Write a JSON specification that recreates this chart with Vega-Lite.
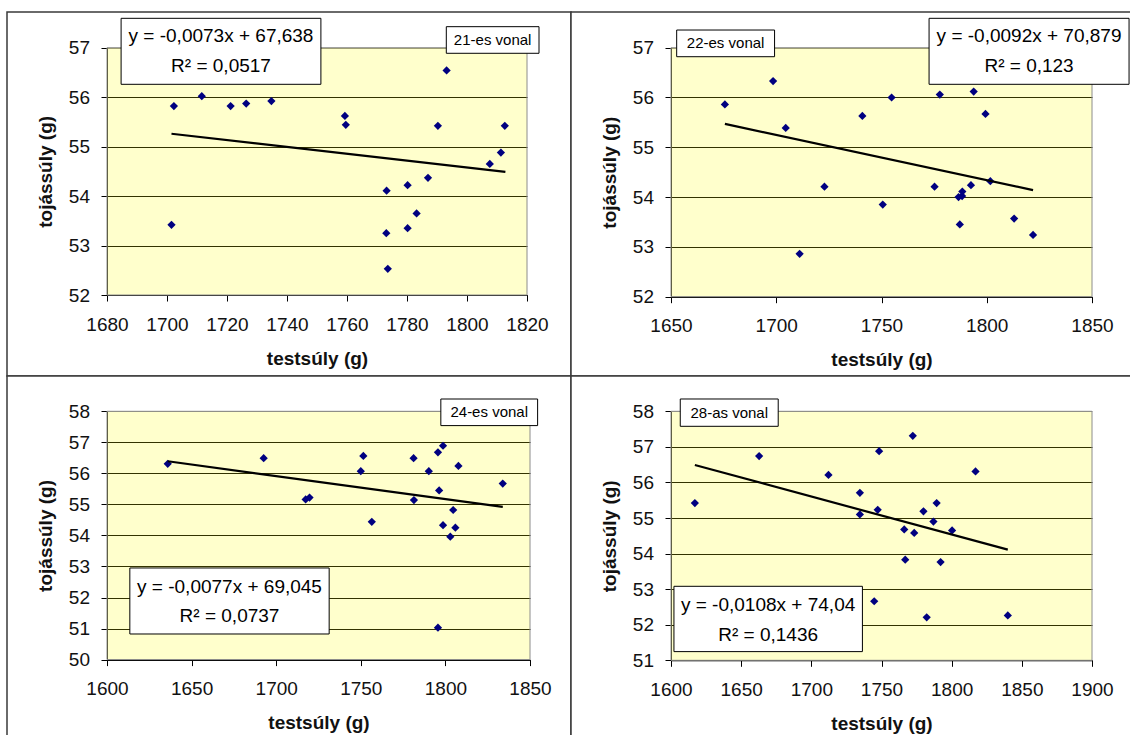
{
  "$schema": "https://vega.github.io/schema/vega-lite/v6.json",
  "background": "white",
  "padding": {"left": 6, "top": 11, "right": 0, "bottom": 0},
  "columns": 2,
  "spacing": 0,
  "bounds": "flush",
  "config": {
    "font": "Liberation Sans",
    "axis": {
      "labelFont": "Liberation Sans", "labelFontSize": 19, "labelColor": "#111",
      "titleFont": "Liberation Sans", "titleFontSize": 19, "titleFontWeight": "bold", "titleColor": "#111",
      "domainColor": "#000", "tickColor": "#000", "tickSize": 6, "domainWidth": 1, "tickWidth": 1,
      "gridColor": "#000", "gridOpacity": 1, "gridWidth": 1, "zindex": 1, "labelOverlap": false, "labelFlush": false
    },
    "axisX": {"grid": false, "labelPadding": 14, "titlePadding": 15, "format": "d"},
    "axisY": {"grid": true, "labelPadding": 11.5, "titlePadding": 13, "format": "d"}
  },
  "datasets": {
    "one": [{"a": 1}],
    "p21": [
      {"x": 1702.3, "y": 55.82}, {"x": 1701.5, "y": 53.42}, {"x": 1711.6, "y": 56.02}, {"x": 1721.2, "y": 55.82},
      {"x": 1726.4, "y": 55.87}, {"x": 1734.8, "y": 55.92}, {"x": 1759.3, "y": 55.62}, {"x": 1759.6, "y": 55.44},
      {"x": 1773.2, "y": 54.11}, {"x": 1773.1, "y": 53.25}, {"x": 1773.6, "y": 52.53}, {"x": 1780.2, "y": 54.22},
      {"x": 1780.2, "y": 53.35}, {"x": 1783.2, "y": 53.65}, {"x": 1787.0, "y": 54.37}, {"x": 1790.3, "y": 55.42},
      {"x": 1793.2, "y": 56.54}, {"x": 1807.6, "y": 54.65}, {"x": 1811.3, "y": 54.88}, {"x": 1812.6, "y": 55.42}
    ],
    "t21": [{"x": 1701.5, "y": 55.26}, {"x": 1812.8, "y": 54.49}],
    "p22": [
      {"x": 1675.6, "y": 55.86}, {"x": 1698.5, "y": 56.33}, {"x": 1704.5, "y": 55.39}, {"x": 1711.1, "y": 52.86},
      {"x": 1722.9, "y": 54.21}, {"x": 1740.9, "y": 55.63}, {"x": 1750.6, "y": 53.85}, {"x": 1754.8, "y": 56.0},
      {"x": 1775.2, "y": 54.21}, {"x": 1777.7, "y": 56.06}, {"x": 1786.6, "y": 54.0}, {"x": 1787.2, "y": 53.45},
      {"x": 1788.3, "y": 54.02}, {"x": 1788.4, "y": 54.11}, {"x": 1792.5, "y": 54.24}, {"x": 1793.8, "y": 56.12},
      {"x": 1799.4, "y": 55.67}, {"x": 1801.7, "y": 54.32}, {"x": 1813.0, "y": 53.57}, {"x": 1822.0, "y": 53.24}
    ],
    "t22": [{"x": 1675.6, "y": 55.47}, {"x": 1822.0, "y": 54.14}],
    "p24": [
      {"x": 1635.9, "y": 56.31}, {"x": 1692.6, "y": 56.49}, {"x": 1717.4, "y": 55.16}, {"x": 1719.7, "y": 55.22},
      {"x": 1750.0, "y": 56.07}, {"x": 1751.5, "y": 56.56}, {"x": 1756.5, "y": 54.44}, {"x": 1781.2, "y": 56.49},
      {"x": 1781.4, "y": 55.14}, {"x": 1790.2, "y": 56.07}, {"x": 1795.6, "y": 56.68}, {"x": 1796.3, "y": 55.45},
      {"x": 1798.6, "y": 56.89}, {"x": 1798.6, "y": 54.33}, {"x": 1795.6, "y": 51.03}, {"x": 1802.9, "y": 53.96},
      {"x": 1804.6, "y": 54.82}, {"x": 1805.9, "y": 54.25}, {"x": 1807.7, "y": 56.24}, {"x": 1833.9, "y": 55.67}
    ],
    "t24": [{"x": 1635.9, "y": 56.39}, {"x": 1833.9, "y": 54.92}],
    "p28": [
      {"x": 1617.0, "y": 55.42}, {"x": 1662.8, "y": 56.74}, {"x": 1712.2, "y": 56.21}, {"x": 1734.6, "y": 55.71},
      {"x": 1734.6, "y": 55.1}, {"x": 1744.8, "y": 52.66}, {"x": 1747.3, "y": 55.23}, {"x": 1748.3, "y": 56.88},
      {"x": 1766.2, "y": 54.68}, {"x": 1766.9, "y": 53.83}, {"x": 1772.3, "y": 57.31}, {"x": 1773.3, "y": 54.58},
      {"x": 1779.9, "y": 55.19}, {"x": 1782.2, "y": 52.21}, {"x": 1787.0, "y": 54.9}, {"x": 1789.3, "y": 55.42},
      {"x": 1792.1, "y": 53.76}, {"x": 1800.3, "y": 54.65}, {"x": 1817.0, "y": 56.31}, {"x": 1840.0, "y": 52.26}
    ],
    "t28": [{"x": 1617.0, "y": 56.49}, {"x": 1840.0, "y": 54.11}]
  },
  "concat": [
    {
      "width": 564, "height": 364,
      "view": {"fill": "white", "stroke": "#3a3a3a", "strokeWidth": 1.5},
      "layer": [
        {"data": {"name": "one"}, "mark": {"type": "rect", "fill": "#FFFF00", "fillOpacity": 0.2, "stroke": "#8c8c8c", "strokeWidth": 1},
          "encoding": {
            "x": {"datum": 1680, "type": "quantitative",
              "scale": {"domain": [1680, 1820], "range": [100, 520], "nice": false, "zero": false},
              "axis": {"title": "testsúly (g)", "values": [1680, 1700, 1720, 1740, 1760, 1780, 1800, 1820], "offset": -81}},
            "x2": {"datum": 1820},
            "y": {"datum": 52, "type": "quantitative",
              "scale": {"domain": [52, 57], "range": [283, 35.7], "nice": false, "zero": false},
              "axis": {"title": "tojássúly (g)", "values": [52, 53, 54, 55, 56, 57], "offset": -100,
                "gridColor": {"condition": {"test": "datum.value >= 57", "value": "#8c8c8c"}, "value": "#000"}}},
            "y2": {"datum": 57}}},
        {"data": {"name": "p21"}, "mark": {"type": "point", "shape": "diamond", "filled": true, "color": "#000080", "size": 68, "opacity": 1},
          "encoding": {"x": {"field": "x", "type": "quantitative"}, "y": {"field": "y", "type": "quantitative"}}},
        {"data": {"name": "t21"}, "mark": {"type": "line", "color": "#000", "strokeWidth": 2.2},
          "encoding": {"x": {"field": "x", "type": "quantitative"}, "y": {"field": "y", "type": "quantitative"}}},
        {"data": {"name": "one"}, "mark": {"type": "rect", "fill": "white", "stroke": "#000", "strokeWidth": 1},
          "encoding": {"x": {"datum": 1684.7, "type": "quantitative"}, "x2": {"datum": 1751.3}, "y": {"datum": 56.26, "type": "quantitative"}, "y2": {"datum": 57.594}}},
        {"data": {"name": "one"}, "mark": {"type": "text", "fontSize": 19, "color": "#000", "align": "center", "baseline": "middle"},
          "encoding": {"x": {"datum": 1718, "type": "quantitative"}, "y": {"datum": 57.237, "type": "quantitative"}, "text": {"value": "y = -0,0073x + 67,638"}}},
        {"data": {"name": "one"}, "mark": {"type": "text", "fontSize": 19, "color": "#000", "align": "center", "baseline": "middle"},
          "encoding": {"x": {"datum": 1718, "type": "quantitative"}, "y": {"datum": 56.63, "type": "quantitative"}, "text": {"value": "R² = 0,0517"}}},
        {"data": {"name": "one"}, "mark": {"type": "rect", "fill": "white", "stroke": "#000", "strokeWidth": 1},
          "encoding": {"x": {"datum": 1793.1, "type": "quantitative"}, "x2": {"datum": 1824.0}, "y": {"datum": 56.887, "type": "quantitative"}, "y2": {"datum": 57.425}}},
        {"data": {"name": "one"}, "mark": {"type": "text", "fontSize": 15, "color": "#000", "align": "center", "baseline": "middle"},
          "encoding": {"x": {"datum": 1808.55, "type": "quantitative"}, "y": {"datum": 57.156, "type": "quantitative"}, "text": {"value": "21-es vonal"}}}
      ]
    },
    {
      "width": 564, "height": 364,
      "view": {"fill": "white", "stroke": "#3a3a3a", "strokeWidth": 1.5},
      "layer": [
        {"data": {"name": "one"}, "mark": {"type": "rect", "fill": "#FFFF00", "fillOpacity": 0.2, "stroke": "#8c8c8c", "strokeWidth": 1},
          "encoding": {
            "x": {"datum": 1650, "type": "quantitative",
              "scale": {"domain": [1650, 1850], "range": [100, 521], "nice": false, "zero": false},
              "axis": {"title": "testsúly (g)", "values": [1650, 1700, 1750, 1800, 1850], "offset": -79.3}},
            "x2": {"datum": 1850},
            "y": {"datum": 52, "type": "quantitative",
              "scale": {"domain": [52, 57], "range": [284.7, 35.7], "nice": false, "zero": false},
              "axis": {"title": "tojássúly (g)", "values": [52, 53, 54, 55, 56, 57], "offset": -100,
                "gridColor": {"condition": {"test": "datum.value >= 57", "value": "#8c8c8c"}, "value": "#000"}}},
            "y2": {"datum": 57}}},
        {"data": {"name": "p22"}, "mark": {"type": "point", "shape": "diamond", "filled": true, "color": "#000080", "size": 68, "opacity": 1},
          "encoding": {"x": {"field": "x", "type": "quantitative"}, "y": {"field": "y", "type": "quantitative"}}},
        {"data": {"name": "t22"}, "mark": {"type": "line", "color": "#000", "strokeWidth": 2.2},
          "encoding": {"x": {"field": "x", "type": "quantitative"}, "y": {"field": "y", "type": "quantitative"}}},
        {"data": {"name": "one"}, "mark": {"type": "rect", "fill": "white", "stroke": "#000", "strokeWidth": 1},
          "encoding": {"x": {"datum": 1772.6, "type": "quantitative"}, "x2": {"datum": 1867.6}, "y": {"datum": 56.265, "type": "quantitative"}, "y2": {"datum": 57.59}}},
        {"data": {"name": "one"}, "mark": {"type": "text", "fontSize": 19, "color": "#000", "align": "center", "baseline": "middle"},
          "encoding": {"x": {"datum": 1820.1, "type": "quantitative"}, "y": {"datum": 57.235, "type": "quantitative"}, "text": {"value": "y = -0,0092x + 70,879"}}},
        {"data": {"name": "one"}, "mark": {"type": "text", "fontSize": 19, "color": "#000", "align": "center", "baseline": "middle"},
          "encoding": {"x": {"datum": 1820.1, "type": "quantitative"}, "y": {"datum": 56.633, "type": "quantitative"}, "text": {"value": "R² = 0,123"}}},
        {"data": {"name": "one"}, "mark": {"type": "rect", "fill": "white", "stroke": "#000", "strokeWidth": 1},
          "encoding": {"x": {"datum": 1652.7, "type": "quantitative"}, "x2": {"datum": 1699.2}, "y": {"datum": 56.819, "type": "quantitative"}, "y2": {"datum": 57.355}}},
        {"data": {"name": "one"}, "mark": {"type": "text", "fontSize": 15, "color": "#000", "align": "center", "baseline": "middle"},
          "encoding": {"x": {"datum": 1675.95, "type": "quantitative"}, "y": {"datum": 57.087, "type": "quantitative"}, "text": {"value": "22-es vonal"}}}
      ]
    },
    {
      "width": 564, "height": 364,
      "view": {"fill": "white", "stroke": "#3a3a3a", "strokeWidth": 1.5},
      "layer": [
        {"data": {"name": "one"}, "mark": {"type": "rect", "fill": "#FFFF00", "fillOpacity": 0.2, "stroke": "#8c8c8c", "strokeWidth": 1},
          "encoding": {
            "x": {"datum": 1600, "type": "quantitative",
              "scale": {"domain": [1600, 1850], "range": [100, 523], "nice": false, "zero": false},
              "axis": {"title": "testsúly (g)", "values": [1600, 1650, 1700, 1750, 1800, 1850], "offset": -80.4}},
            "x2": {"datum": 1850},
            "y": {"datum": 50, "type": "quantitative",
              "scale": {"domain": [50, 58], "range": [283.6, 35.3], "nice": false, "zero": false},
              "axis": {"title": "tojássúly (g)", "values": [50, 51, 52, 53, 54, 55, 56, 57, 58], "offset": -100,
                "gridColor": {"condition": {"test": "datum.value >= 58", "value": "#8c8c8c"}, "value": "#000"}}},
            "y2": {"datum": 58}}},
        {"data": {"name": "p24"}, "mark": {"type": "point", "shape": "diamond", "filled": true, "color": "#000080", "size": 68, "opacity": 1},
          "encoding": {"x": {"field": "x", "type": "quantitative"}, "y": {"field": "y", "type": "quantitative"}}},
        {"data": {"name": "t24"}, "mark": {"type": "line", "color": "#000", "strokeWidth": 2.2},
          "encoding": {"x": {"field": "x", "type": "quantitative"}, "y": {"field": "y", "type": "quantitative"}}},
        {"data": {"name": "one"}, "mark": {"type": "rect", "fill": "white", "stroke": "#000", "strokeWidth": 1},
          "encoding": {"x": {"datum": 1613.5, "type": "quantitative"}, "x2": {"datum": 1731.3}, "y": {"datum": 50.825, "type": "quantitative"}, "y2": {"datum": 52.952}}},
        {"data": {"name": "one"}, "mark": {"type": "text", "fontSize": 19, "color": "#000", "align": "center", "baseline": "middle"},
          "encoding": {"x": {"datum": 1672.4, "type": "quantitative"}, "y": {"datum": 52.34, "type": "quantitative"}, "text": {"value": "y = -0,0077x + 69,045"}}},
        {"data": {"name": "one"}, "mark": {"type": "text", "fontSize": 19, "color": "#000", "align": "center", "baseline": "middle"},
          "encoding": {"x": {"datum": 1672.4, "type": "quantitative"}, "y": {"datum": 51.418, "type": "quantitative"}, "text": {"value": "R² = 0,0737"}}},
        {"data": {"name": "one"}, "mark": {"type": "rect", "fill": "white", "stroke": "#000", "strokeWidth": 1},
          "encoding": {"x": {"datum": 1797.3, "type": "quantitative"}, "x2": {"datum": 1854.5}, "y": {"datum": 57.539, "type": "quantitative"}, "y2": {"datum": 58.396}}},
        {"data": {"name": "one"}, "mark": {"type": "text", "fontSize": 15, "color": "#000", "align": "center", "baseline": "middle"},
          "encoding": {"x": {"datum": 1825.9, "type": "quantitative"}, "y": {"datum": 57.967, "type": "quantitative"}, "text": {"value": "24-es vonal"}}}
      ]
    },
    {
      "width": 564, "height": 364,
      "view": {"fill": "white", "stroke": "#3a3a3a", "strokeWidth": 1.5},
      "layer": [
        {"data": {"name": "one"}, "mark": {"type": "rect", "fill": "#FFFF00", "fillOpacity": 0.2, "stroke": "#8c8c8c", "strokeWidth": 1},
          "encoding": {
            "x": {"datum": 1600, "type": "quantitative",
              "scale": {"domain": [1600, 1900], "range": [100, 521], "nice": false, "zero": false},
              "axis": {"title": "testsúly (g)", "values": [1600, 1650, 1700, 1750, 1800, 1850, 1900], "offset": -79.7}},
            "x2": {"datum": 1900},
            "y": {"datum": 51, "type": "quantitative",
              "scale": {"domain": [51, 58], "range": [284.3, 35.3], "nice": false, "zero": false},
              "axis": {"title": "tojássúly (g)", "values": [51, 52, 53, 54, 55, 56, 57, 58], "offset": -100,
                "gridColor": {"condition": {"test": "datum.value >= 58", "value": "#8c8c8c"}, "value": "#000"}}},
            "y2": {"datum": 58}}},
        {"data": {"name": "p28"}, "mark": {"type": "point", "shape": "diamond", "filled": true, "color": "#000080", "size": 68, "opacity": 1},
          "encoding": {"x": {"field": "x", "type": "quantitative"}, "y": {"field": "y", "type": "quantitative"}}},
        {"data": {"name": "t28"}, "mark": {"type": "line", "color": "#000", "strokeWidth": 2.2},
          "encoding": {"x": {"field": "x", "type": "quantitative"}, "y": {"field": "y", "type": "quantitative"}}},
        {"data": {"name": "one"}, "mark": {"type": "rect", "fill": "white", "stroke": "#000", "strokeWidth": 1},
          "encoding": {"x": {"datum": 1602.1, "type": "quantitative"}, "x2": {"datum": 1736.4}, "y": {"datum": 51.244, "type": "quantitative"}, "y2": {"datum": 53.08}}},
        {"data": {"name": "one"}, "mark": {"type": "text", "fontSize": 19, "color": "#000", "align": "center", "baseline": "middle"},
          "encoding": {"x": {"datum": 1669.2, "type": "quantitative"}, "y": {"datum": 52.546, "type": "quantitative"}, "text": {"value": "y = -0,0108x + 74,04"}}},
        {"data": {"name": "one"}, "mark": {"type": "text", "fontSize": 19, "color": "#000", "align": "center", "baseline": "middle"},
          "encoding": {"x": {"datum": 1669.2, "type": "quantitative"}, "y": {"datum": 51.722, "type": "quantitative"}, "text": {"value": "R² = 0,1436"}}},
        {"data": {"name": "one"}, "mark": {"type": "rect", "fill": "white", "stroke": "#000", "strokeWidth": 1},
          "encoding": {"x": {"datum": 1606.6, "type": "quantitative"}, "x2": {"datum": 1676.4}, "y": {"datum": 57.578, "type": "quantitative"}, "y2": {"datum": 58.346}}},
        {"data": {"name": "one"}, "mark": {"type": "text", "fontSize": 15, "color": "#000", "align": "center", "baseline": "middle"},
          "encoding": {"x": {"datum": 1641.5, "type": "quantitative"}, "y": {"datum": 57.962, "type": "quantitative"}, "text": {"value": "28-as vonal"}}}
      ]
    }
  ]
}
